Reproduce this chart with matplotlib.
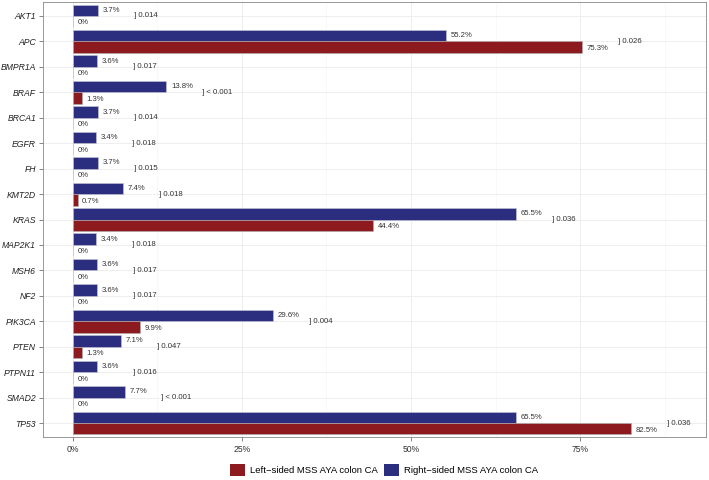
import numpy as np
import matplotlib
matplotlib.use('Agg')
import matplotlib.pyplot as plt
from matplotlib.patches import Patch

plt.rcParams['font.family'] = ['Liberation Sans', 'DejaVu Sans']

genes = ['AKT1', 'APC', 'BMPR1A', 'BRAF', 'BRCA1', 'EGFR', 'FH', 'KMT2D', 'KRAS',
         'MAP2K1', 'MSH6', 'NF2', 'PIK3CA', 'PTEN', 'PTPN11', 'SMAD2', 'TP53']
right_pct = [3.7, 55.2, 3.6, 13.8, 3.7, 3.4, 3.7, 7.4, 65.5,
             3.4, 3.6, 3.6, 29.6, 7.1, 3.6, 7.7, 65.5]
left_pct = [0, 75.3, 0, 1.3, 0, 0, 0, 0.7, 44.4,
            0, 0, 0, 9.9, 1.3, 0, 0, 82.5]
pvals = ['0.014', '0.026', '0.017', '< 0.001', '0.014', '0.018', '0.015', '0.018', '0.036',
         '0.018', '0.017', '0.017', '0.004', '0.047', '0.016', '< 0.001', '0.036']
series_names = ['Left\u2212sided MSS AYA colon CA', 'Right\u2212sided MSS AYA colon CA']

blue = '#2B2D7E'
red = '#8C1A1F'
txt = '#333333'

fig = plt.figure(figsize=(7.09, 4.8), dpi=100)
ax = fig.add_axes([43 / 709, 1 - 437 / 480, 663 / 709, 435 / 480])

y = np.arange(len(genes))
h = 0.45
ax.barh(y - h / 2, right_pct, height=h, color=blue, edgecolor='#c8c8d8', linewidth=0.4, zorder=3)
ax.barh(y + h / 2, left_pct, height=h, color=red, edgecolor='#b0b0b0', linewidth=0.4, zorder=3)

for i in range(len(genes)):
    ax.text(right_pct[i] + 0.7, y[i] - h / 2, f'{right_pct[i]:g}%', fontsize=5.6,
            color=txt, va='center', ha='left')
    ax.text(left_pct[i] + 0.7, y[i] + h / 2 + 0.05, f'{left_pct[i]:g}%', fontsize=5.6,
            color=txt, va='center', ha='left')
    ax.text(max(right_pct[i], left_pct[i]) + 5.3, y[i], '] ' + pvals[i], fontsize=5.6,
            color=txt, va='center', ha='left')

ax.set_xlim(-4.4, 93.6)
ax.set_ylim(len(genes) - 1 + 0.55, -0.55)
ax.set_yticks(y)
ax.set_yticklabels(genes, fontstyle='italic', fontsize=6.2, color='#222222')
ax.set_xticks([0, 25, 50, 75])
ax.set_xticklabels(['0%', '25%', '50%', '75%'], fontsize=6.2, color='#333333')
ax.set_xticks([12.5, 37.5, 62.5, 87.5], minor=True)
ax.tick_params(axis='both', which='major', length=3, width=0.5, color='#555555', pad=3)
ax.tick_params(axis='y', which='major', pad=2)
ax.tick_params(axis='x', which='minor', length=0)
ax.grid(True, which='major', color='#EBEBEB', linewidth=0.6, zorder=0)
ax.grid(True, which='minor', axis='x', color='#F3F3F3', linewidth=0.4, zorder=0)
ax.set_axisbelow(True)
for s in ax.spines.values():
    s.set_color('#888888')
    s.set_linewidth(0.6)

handles = [Patch(facecolor=red, edgecolor='none'), Patch(facecolor=blue, edgecolor='none')]
fig.legend(handles, series_names, loc='center', bbox_to_anchor=(384 / 709, 1 - 470 / 480),
           ncol=2, frameon=False, fontsize=6.8, handlelength=1.6, handleheight=1.6,
           handletextpad=0.5, columnspacing=0.6)

fig.savefig('out.png', dpi=100)
